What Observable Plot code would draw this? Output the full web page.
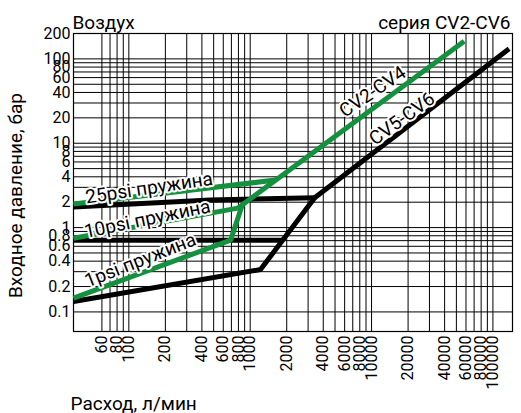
<!DOCTYPE html>
<html>
<head>
<meta charset="utf-8">
<script src="https://cdn.jsdelivr.net/npm/d3@7"></script>
<script src="https://cdn.jsdelivr.net/npm/@observablehq/plot@0.6"></script>
<style>
  html, body { margin: 0; padding: 0; background: #fff; }
  #chart svg { display: block; }
</style>
</head>
<body>
<div id="chart"></div>
<script>
// ---- Axis ticks & grid ----
const xTicks = [60, 80, 100, 200, 400, 600, 800, 1000, 2000, 4000, 6000, 8000, 10000, 20000, 40000, 60000, 80000, 100000];
const yTicks = [0.1, 0.2, 0.4, 0.6, 0.8, 1, 2, 4, 6, 8, 10, 20, 40, 60, 80, 100, 200];
const xGrid = [60, 70, 80, 90, 100, 200, 300, 400, 500, 600, 700, 800, 900, 1000, 2000, 3000, 4000, 5000, 6000, 7000, 8000, 9000, 10000, 20000, 30000, 40000, 50000, 60000, 70000, 80000, 90000, 100000];
const yGrid = [0.1, 0.2, 0.3, 0.4, 0.5, 0.6, 0.7, 0.8, 0.9, 1, 2, 3, 4, 5, 6, 7, 8, 9, 10, 20, 30, 40, 50, 60, 70, 80, 90, 100];

// ---- Series: CV2-CV4 (green) ----
const cv24MainQ = [790, 58000];      const cv24MainP = [1.70, 162];
const cv24S25Q  = [35, 1617];        const cv24S25P  = [1.90, 3.66];
const cv24S10Q  = [35, 790];         const cv24S10P  = [0.748, 1.70];
const cv24S1Q   = [35, 690, 860];    const cv24S1P   = [0.146, 0.71, 1.85];

// ---- Series: CV5-CV6 (black) ----
const cv56MainQ = [3400, 136000];    const cv56MainP = [2.26, 131.5];
const cv56S25Q  = [35, 470, 3400];   const cv56S25P  = [1.75, 2.12, 2.26];
const cv56S10Q  = [35, 1850];        const cv56S10P  = [0.71, 0.71];
const cv56S1Q   = [35, 1217, 3400];  const cv56S1P   = [0.133, 0.318, 2.26];

// ---- Line labels ----
const labelText  = ["CV2-CV4", "CV5-CV6", "25psi пружина", "10psi пружина", "1psi пружина"];
const labelQ     = [10230, 17800, 147, 142, 124.5];
const labelP     = [40.8, 19.5, 2.94, 1.26, 0.409];
const labelAngle = [-34, -36, -8.5, -11.7, -21.5];

const GREEN = "#14913f";
const BLACK = "#000000";

const toRows = (q, p) => q.map((v, i) => ({q: v, p: p[i]}));
const greenSeries = [
  toRows(cv24S25Q, cv24S25P), toRows(cv24S10Q, cv24S10P), toRows(cv24S1Q, cv24S1P), toRows(cv24MainQ, cv24MainP)
];
const blackSeries = [
  toRows(cv56S25Q, cv56S25P), toRows(cv56S10Q, cv56S10P), toRows(cv56S1Q, cv56S1P), toRows(cv56MainQ, cv56MainP)
];
const labels = labelText.map((t, i) => ({t, q: labelQ[i], p: labelP[i], a: labelAngle[i]}));

const lineOpts = {x: "q", y: "p", strokeWidth: 5, strokeLinejoin: "miter", strokeLinecap: "butt"};

const chart = Plot.plot({
  width: 521,
  height: 413,
  marginTop: 33,
  marginLeft: 73,
  marginRight: 9,
  marginBottom: 82,
  style: {fontFamily: "Roboto, sans-serif", fontSize: "16px", color: "#000", background: "#fff"},
  x: {type: "log", domain: [35, 145000], axis: null},
  y: {type: "log", domain: [0.0586, 200], axis: null},
  marks: [
    Plot.ruleY(yGrid, {stroke: "#000", strokeWidth: 1}),
    Plot.ruleX(xGrid, {stroke: "#000", strokeWidth: 1}),
    Plot.frame({stroke: "#000", strokeWidth: 1.2}),
    ...blackSeries.map(d => Plot.line(d, {...lineOpts, stroke: BLACK})),
    ...greenSeries.map(d => Plot.line(d, {...lineOpts, stroke: GREEN})),
    Plot.text(labels, {
      x: "q", y: "p", text: "t", rotate: "a",
      fontSize: 19, fill: "#000", stroke: "#fff", strokeWidth: 4
    }),
    // tick labels drawn through the x / y scales (log axes would otherwise thin them out)
    Plot.text(xTicks, {
      x: d => d, text: d => String(d), frameAnchor: "bottom",
      rotate: -90, textAnchor: "end", lineAnchor: "middle", dy: 4, fontSize: 16
    }),
    Plot.text(yTicks, {
      y: d => d, text: d => String(d), frameAnchor: "left",
      textAnchor: "end", lineAnchor: "middle", dx: -3, fontSize: 16
    }),
    Plot.text(["Воздух"], {frameAnchor: "top-left", lineAnchor: "bottom", textAnchor: "start", dx: -1, dy: -5, fontSize: 19}),
    Plot.text(["серия CV2-CV6"], {frameAnchor: "top-right", lineAnchor: "bottom", textAnchor: "end", dx: -2, dy: -5, fontSize: 19}),
    Plot.text(["Расход, л/мин"], {frameAnchor: "bottom-left", lineAnchor: "bottom", textAnchor: "start", dx: -3, dy: 78, fontSize: 19}),
    Plot.text(["Входное давление, бар"], {frameAnchor: "left", rotate: -90, textAnchor: "middle", lineAnchor: "middle", dx: -58, dy: 13, fontSize: 19})
  ]
});
document.getElementById("chart").appendChild(chart);
</script>
</body>
</html>
